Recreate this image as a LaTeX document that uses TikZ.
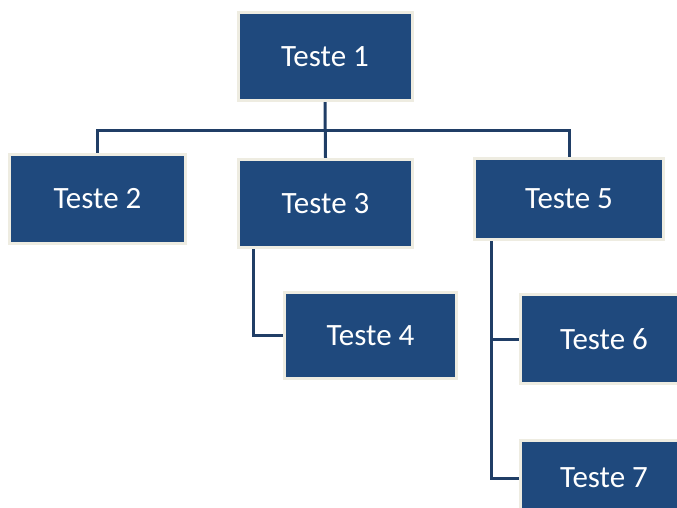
\documentclass[tikz,border=0pt]{standalone}
\usepackage{fontspec}
\setmainfont{Carlito}
\usetikzlibrary{backgrounds}
\definecolor{boxblue}{HTML}{1F497D}
\definecolor{boxrim}{HTML}{EEECE1}
\definecolor{linkblue}{HTML}{203E66}
\tikzset{
  orgbox/.style={draw=boxrim, line width=3pt, fill=boxblue, text=white,
    font=\fontsize{31}{37}\selectfont, inner sep=0pt},
  orglink/.style={draw=linkblue, line width=3pt}
}
\begin{document}
\begin{tikzpicture}[x=1pt,y=-1pt]
  \useasboundingbox (0,0) rectangle (677,507);
  \clip (0,0) rectangle (677,507);
  % org chart boxes (sizes are outer sizes minus the rim width)
  \node[orgbox, minimum width=174pt, minimum height=88pt] (t1) at (325,56.5) {Teste 1};
  \node[orgbox, minimum width=176pt, minimum height=89pt] (t2) at (97.5,199) {Teste 2};
  \node[orgbox, minimum width=174pt, minimum height=88pt] (t3) at (325.5,203.5) {Teste 3};
  \node[orgbox, minimum width=189pt, minimum height=81pt] (t5) at (569,199) {Teste 5};
  \node[orgbox, minimum width=172pt, minimum height=86pt] (t4) at (370.5,335.5) {Teste 4};
  \node[orgbox, minimum width=167pt, minimum height=89pt] (t6) at (604,339) {Teste 6};
  \node[orgbox, minimum width=167pt, minimum height=75pt] (t7) at (604,478) {Teste 7};
  \coordinate (bus) at (325,130);
  % connectors behind the boxes
  \begin{pgfonlayer}{background}
    \draw[orglink] (t1.south) -- (t3.north);
    \draw[orglink] (t2.north) |- (bus) -| (t5.north);
    \draw[orglink] ([xshift=16pt]t3.south west) |- (t4.west);
    \draw[orglink] ([xshift=18.5pt]t5.south west) |- (t6.west);
    \draw[orglink] ([xshift=18.5pt]t5.south west) |- (t7.west);
  \end{pgfonlayer}
\end{tikzpicture}
\end{document}
